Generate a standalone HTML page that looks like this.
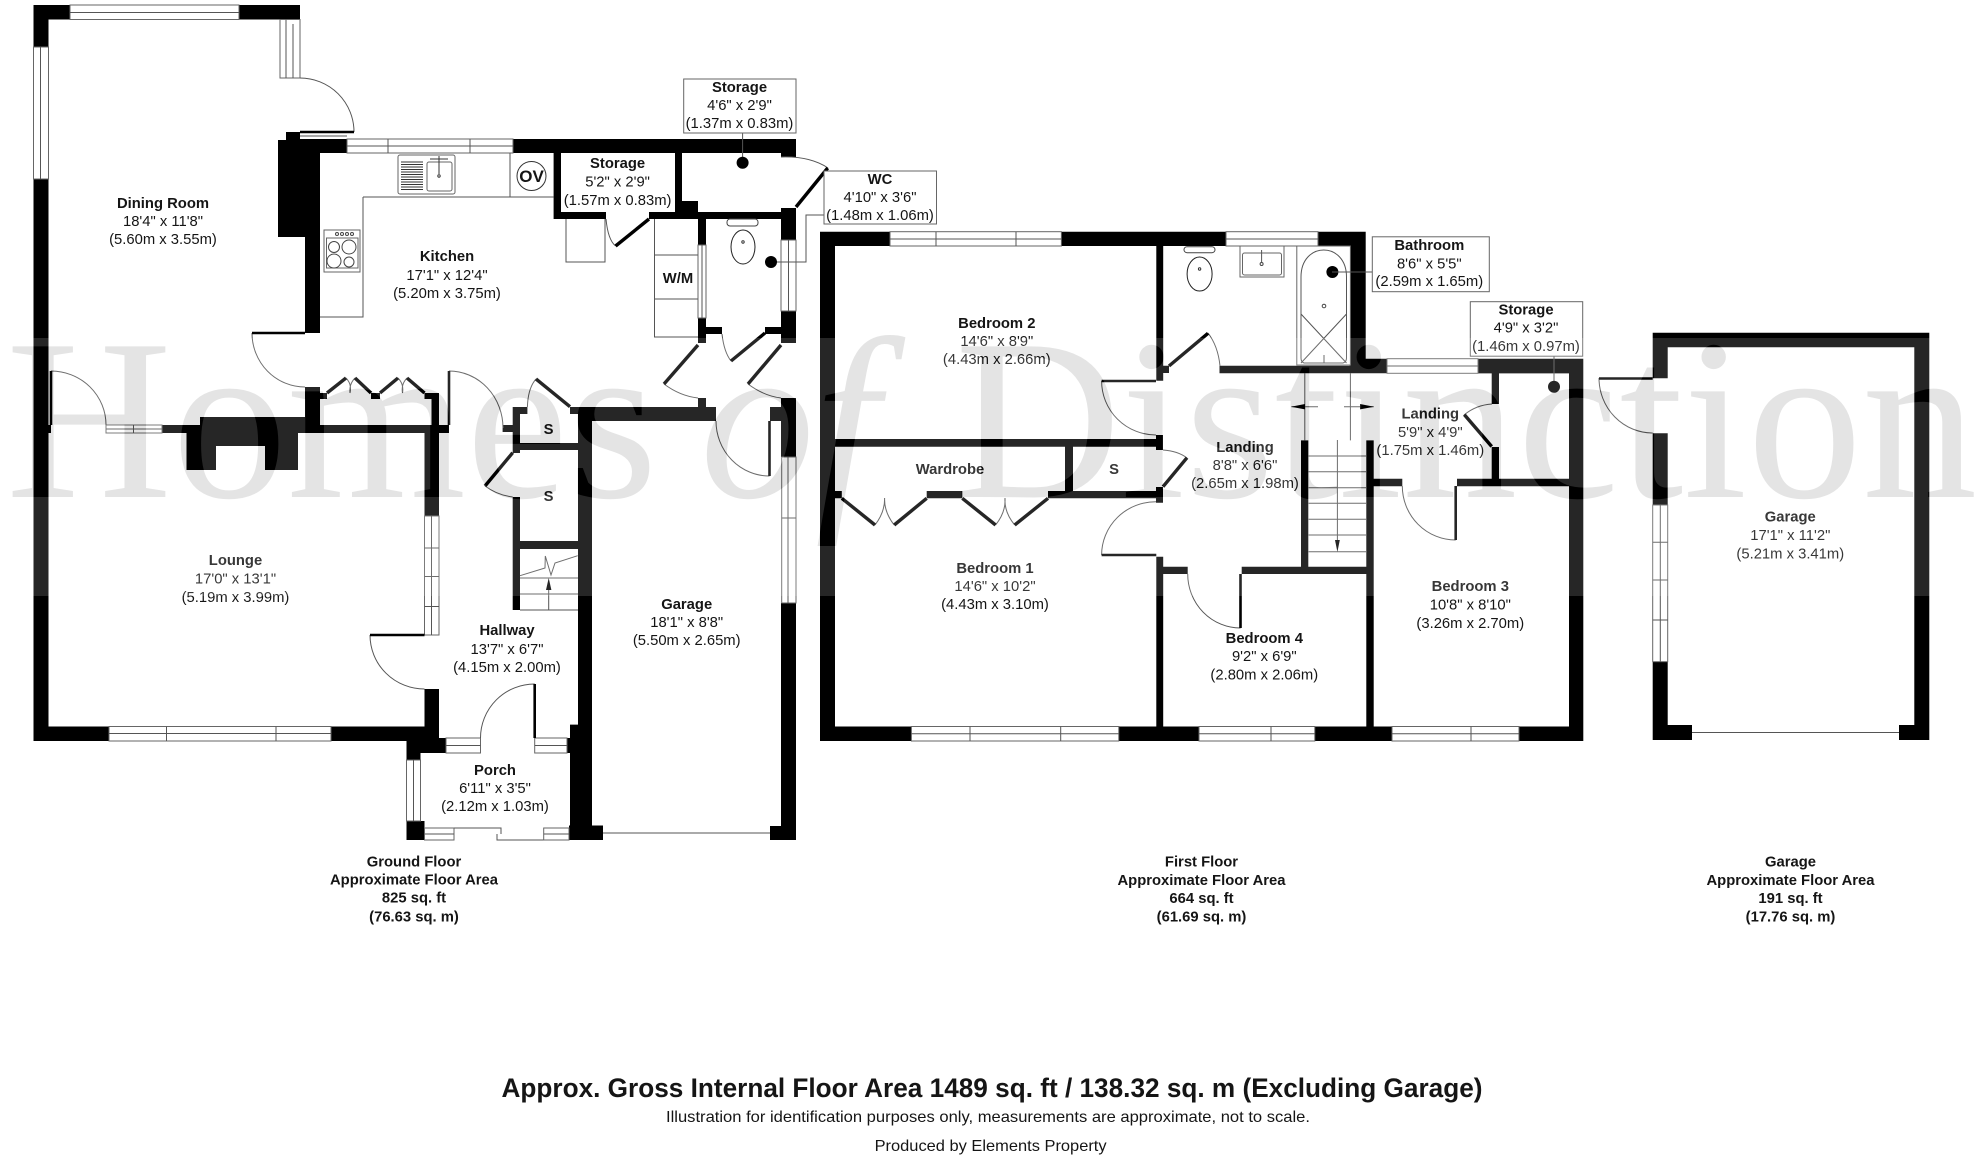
<!DOCTYPE html>
<html><head><meta charset="utf-8"><title>Floor plan</title>
<style>
html,body{margin:0;padding:0;background:#fff}
svg{display:block}
text{font-family:"Liberation Sans",sans-serif;fill:#151515;text-anchor:middle;font-size:14.8px}
.b{font-weight:bold}
.w{fill:#fff;stroke:#666;stroke-width:1}
.l{fill:none;stroke:#555;stroke-width:1}
.k{fill:none;stroke:#000;stroke-width:2.6}
.d{fill:none;stroke:#000;stroke-width:3.4}
.wm{font-family:"Liberation Serif",serif;font-size:230px;text-anchor:start}
</style></head><body>
<svg width="1984" height="1160" viewBox="0 0 1984 1160" xmlns="http://www.w3.org/2000/svg">
<defs><mask id="m" maskUnits="userSpaceOnUse" x="0" y="0" width="1984" height="1160"><rect x="0" y="0" width="1984" height="1160" fill="#fff"/><text class="wm" y="497" style="fill:#000"><tspan x="6">Homes</tspan><tspan x="700" font-style="italic">of</tspan><tspan x="955">Distinction</tspan></text></mask></defs>
<rect width="1984" height="1160" fill="#fff"/>

<!-- GROUND FLOOR WALLS -->
<path fill="#000" d="M33.5 5H70V19.5H33.5ZM33.5 5H48.5V47H33.5ZM239 5H300V19.5H239ZM286 19H300V24H286ZM33.5 179H48.5V741H33.5ZM48.5 425H51V433H48.5ZM278 140H305V237H278ZM286 132H300V140H286ZM300 139H347V153H300ZM305 140H320V333H305ZM305 387H320V433H305ZM320 393H327V399H320ZM371 393H380V399H371ZM424.5 393H439V399H424.5ZM431.5 399H439V433H431.5ZM162 425H449V433H162ZM200 417H305V433H200ZM186.5 433H298V470H186.5ZM424.5 433H439V516H424.5ZM424.5 689H439V741H424.5ZM33.5 726.5H109V741H33.5ZM331 726.5H439V741H331ZM406.5 738H446V753H406.5ZM406.5 753H420.5V760H406.5ZM406.5 821H424.5V840H406.5ZM570 724.6H592V840H570ZM567 738H570V753H567ZM578 407H592V840H578ZM569 825.5H603V840H569ZM513 139H796V153H513ZM781 153H796V157H781ZM553.6 153H561V219H553.6ZM553.6 212H606V219H553.6ZM649 212H781V219H649ZM675 153H682V212H675ZM682 201H698V212H682ZM781 208H796V240H781ZM781 311H796V343H781ZM698 219H706V245H698ZM698 318H706V343H698ZM706 327H722V334H706ZM765 327H781V334H765ZM570 407H592V414H570ZM592 407H716V421H592ZM698 398H706V407H698ZM770 407H796V421H770ZM781 398H796V457H781ZM781 603H796V840H781ZM770 826H796V840H770ZM512.7 407H520V453H512.7ZM502.6 425H512.7V432H502.6ZM512.7 407H527.4V414H512.7ZM520 443H578V450H520ZM512.7 497H520V610H512.7ZM520 541H578V549H520Z"/>
<rect x="216" y="446" width="49" height="24" fill="#fff"/>

<!-- GROUND WINDOWS -->
<rect class="w" x="70" y="5" width="169" height="14.5"/><path class="l" d="M70 12.5H239"/>
<rect class="w" x="280" y="19.5" width="20" height="58.5"/><path class="l" d="M286 19.5V78M293 24V78"/>
<rect class="w" x="33.5" y="47" width="15" height="132"/><path class="l" d="M40.5 47V179"/>
<rect class="w" x="106" y="425" width="56" height="8"/><path class="l" d="M133.5 425V433M106 429H162"/>
<rect class="w" x="347" y="139" width="166" height="14"/><path class="l" d="M347 146H513M388 139V153M470 139V153"/>
<path class="l" d="M300 136H347"/>
<rect class="w" x="424.5" y="516" width="14.5" height="119"/><path class="l" d="M431.5 516V635M424.5 548H439M424.5 576.5H439M424.5 606.5H439"/>
<rect class="w" x="109" y="726.5" width="222" height="14.5"/><path class="l" d="M109 733.5H331M166.5 726.5V741M276 726.5V741"/>
<rect class="w" x="446" y="738" width="34.5" height="15"/><path class="l" d="M446 745.5H480.5"/>
<rect class="w" x="534.7" y="738" width="32.3" height="15"/><path class="l" d="M534.7 745.5H567"/>
<rect class="w" x="406.5" y="760" width="14" height="61"/><path class="l" d="M413.5 760V821"/>
<rect class="w" x="424.5" y="828" width="29.5" height="12"/><path class="l" d="M424.5 834H454"/>
<path class="l" d="M454 828H501V834M497 834V840H544"/>
<rect class="w" x="543.7" y="828" width="25.3" height="12"/><path class="l" d="M543.7 834H569"/>
<rect class="w" x="698" y="245" width="8" height="73"/><path class="l" d="M702 245V318"/>
<rect class="w" x="781" y="240" width="15" height="71"/><path class="l" d="M788.5 240V311"/>
<rect class="w" x="781.7" y="457" width="14.3" height="146"/><path class="l" d="M788 457V603M781.7 518H796"/>
<path class="l" d="M603 833H770" stroke-width="1.5"/>

<!-- GROUND DOORS -->
<path class="l" d="M300 78A54 54 0 0 1 354 132M252 333A53 54 0 0 0 305 387M51 371A55 54 0 0 1 106 425M449 371A54 57 0 0 1 503 428M370 635A54.5 54 0 0 0 424.5 689M534.7 684A54.2 54 0 0 0 480.5 738M716 421A53.5 55 0 0 0 769.5 476M606 219Q608 240 615.6 246M722 334Q724 352 731 361M781 157Q810 156 828 168M664 384Q680 396 698 398M748 384Q764 396 781 398M527.4 407Q528 388 536 379M485 486Q497 495 512.7 497M346 378Q352 384 350 393M355 378Q349 384 350 393M398 378Q404 384 402.5 393M407 378Q401 384 402.5 393"/>
<path class="k" d="M300 132H354M252 333H305M51 371V425M449 371V425M370 635H424.5M534.7 684V738M769.5 421V476"/>
<path class="d" d="M649 219L615.6 246M765 333L731 361M796 207L827.7 168M698 345L664 384M781 345L748 384M536 379L570 406.7M512.7 452.7L485 486M327 393L346 378M355 378L371 393M380 393L398 378M407 378L424.5 393"/>

<!-- KITCHEN FITTINGS -->
<path class="l" d="M510 153V197M363 197H553.6M363 197V317H320M566 219V262H605V219"/>
<circle cx="531.5" cy="176" r="14.5" fill="#fff" stroke="#333"/>
<rect x="398" y="155" width="57" height="39" rx="2" fill="#fff" stroke="#666"/>
<rect x="427" y="162" width="25" height="29" rx="2" fill="none" stroke="#666"/>
<path stroke="#333" stroke-width=".9" d="M401 162H423M401 164.5H423M401 167H423M401 169.5H423M401 172H423M401 174.5H423M401 177H423M401 179.5H423M401 182H423M401 184.5H423M401 187H423M401 189.5H423"/>
<path stroke="#333" d="M439 156V174M430 159H448"/>
<circle cx="439" cy="176" r="1.2" fill="none" stroke="#333"/>
<rect x="324" y="230" width="36" height="42" fill="#fff" stroke="#666"/>
<rect x="326.5" y="238" width="31.5" height="30" fill="none" stroke="#666"/>
<g fill="none" stroke="#444"><circle cx="334" cy="247" r="5.5"/><circle cx="349" cy="247" r="7"/><circle cx="334" cy="261" r="7"/><circle cx="349" cy="262" r="5"/><circle cx="337" cy="234" r="1.5"/><circle cx="342" cy="234" r="1.5"/><circle cx="347" cy="234" r="1.5"/><circle cx="352" cy="234" r="1.5"/></g>

<!-- WC fittings -->
<path class="l" d="M654.5 219V337H698M654.5 255H698M654.5 299H698"/>
<rect x="727" y="219" width="31" height="7" rx="3" fill="#fff" stroke="#444"/>
<ellipse cx="743" cy="247" rx="12" ry="17" fill="#fff" stroke="#222"/>
<circle cx="743" cy="242" r="1.2" fill="none" stroke="#333"/>
<path class="l" d="M771 262H806V215H824M742.6 133V163"/>
<circle cx="771" cy="262" r="6" fill="#000"/><circle cx="742.6" cy="162.7" r="6" fill="#000"/>

<!-- Ground stairs -->
<path class="l" d="M520 578H578M520 594H578M520 610H578M520 575.7L545 568L545.3 556L551 575L555 563L577.7 555.7M548.7 610V585"/>
<path fill="#000" d="M548.7 578L546 590H551.4Z"/>

<!-- FIRST FLOOR WALLS -->
<path fill="#000" d="M820 231.7H890V246H820ZM1061.4 231.7H1226V246H1061.4ZM1318 231.7H1365.7V246H1318ZM820 231.7H835V741H820ZM1349.6 231.7H1365.7V373H1349.6ZM1219.5 365.7H1387V373.3H1219.5ZM1365 358.7H1387V373.3H1365ZM1478 358.7H1583.3V373.4H1478ZM1569 358.7H1583.3V741H1569ZM820 726.5H911.4V741H820ZM1118.8 726.5H1199V741H1118.8ZM1314.8 726.5H1392V741H1314.8ZM1519 726.5H1583.3V741H1519ZM1491.7 373H1499V404H1491.7ZM1491.7 447H1499V479H1491.7ZM1457 478.8H1569V486.3H1457ZM1373.7 478.8H1402.3V486.3H1373.7ZM1301 440.4H1308.3V568H1301ZM1366.3 440.4H1373.7V741H1366.3ZM1241.7 566.7H1366.3V574H1241.7ZM1156.3 556.7H1163.2V741H1156.3ZM1163 566.7H1187.7V574H1163ZM1156.3 246H1163.2V380.7H1156.3ZM1163 365.7H1169V373H1163ZM1156 435H1163V450H1156ZM835 439H1156V446.7H835ZM1156 487H1163V502.7H1156ZM1048 491H1156V498.3H1048ZM926.7 491H962.3V498.3H926.7ZM835 491H841.8V498.3H835ZM1065 446.7H1073V491H1065Z"/>
<!-- first floor windows -->
<rect class="w" x="890" y="231.7" width="171.4" height="14.3"/><path class="l" d="M890 239H1061.4M936 231.7V246M1016 231.7V246"/>
<rect class="w" x="1226" y="231.7" width="92" height="14.3"/><path class="l" d="M1226 239H1318"/>
<rect class="w" x="1387" y="358.7" width="91" height="14.6"/><path class="l" d="M1387 366H1478"/>
<rect class="w" x="911.4" y="726.5" width="207.4" height="14.5"/><path class="l" d="M911.4 733.7H1118.8M970 726.5V741M1060.7 726.5V741"/>
<rect class="w" x="1199" y="726.5" width="115.8" height="14.5"/><path class="l" d="M1199 733.7H1314.8M1271 726.5V741"/>
<rect class="w" x="1392" y="726.5" width="127" height="14.5"/><path class="l" d="M1392 733.7H1519M1471 726.5V741"/>
<!-- first floor doors -->
<path class="l" d="M1101.6 381A54.4 54 0 0 0 1156 435M1156 501.7A54.4 53.3 0 0 0 1101.6 555M1187.7 574A52.8 54 0 0 0 1240.5 628M1402.3 486A53.4 54 0 0 0 1455.7 540M1208 333Q1218 346 1220 366M1163 450Q1178 451 1187 458M1464 415Q1476 405 1492 404M875 525Q885 512 884.6 498M894.2 525Q884 512 884.6 498M995.6 525Q1006 512 1005 498M1014.7 525Q1004 512 1005 498"/>
<path class="k" d="M1101.6 381H1156M1101.6 555H1156.3M1240.5 574V628M1455.7 486V540"/>
<path class="d" d="M1169 366L1208 333.3M1187 457.7L1163 486.7M1491.7 446.5L1464.3 414.6M841.8 498.3L875 525M894.2 525L926.7 498.3M962.3 498.3L995.6 525M1014.7 525L1048 498.3"/>
<!-- stairs first floor -->
<path class="l" d="M1304.8 373V440.4M1350.4 373V440.4M1308.6 456H1366M1308.6 471.7H1366M1308.6 487.7H1366M1308.6 503.3H1366M1308.6 519.3H1366M1308.6 535H1366M1308.6 551.7H1366M1337.4 440V545M1291.4 406.7H1318M1344 406.7H1373.7"/>
<path fill="#000" d="M1337.4 552L1335 540H1339.8ZM1291 406.7L1305 404V409.4ZM1374 406.7L1360 404V409.4Z"/>
<!-- bathroom fittings -->
<rect x="1184" y="246.7" width="31" height="6" rx="3" fill="#fff" stroke="#444"/>
<ellipse cx="1199.6" cy="274" rx="12.5" ry="17" fill="#fff" stroke="#222"/>
<circle cx="1199.6" cy="269" r="1.2" fill="none" stroke="#333"/>
<rect x="1240" y="246" width="44" height="31" fill="#fff" stroke="#666"/>
<rect x="1242.5" y="253" width="39" height="22" rx="2" fill="none" stroke="#666"/>
<path class="l" d="M1261.6 250V262"/><circle cx="1261.6" cy="264" r="1.5" fill="none" stroke="#444"/>
<rect x="1296.8" y="246" width="53.6" height="119" fill="#fff" stroke="#666"/>
<path class="l" d="M1304 363Q1301 362 1301 358V277C1301 241 1346.5 241 1346.5 277V358Q1346.5 362 1343 363ZM1301 314L1346.5 363M1346.5 314L1301 363"/>
<circle cx="1324" cy="306" r="1.8" fill="none" stroke="#444"/>
<path class="l" d="M1324 355V363"/>
<circle cx="1332.4" cy="272" r="6" fill="#000"/>
<path class="l" d="M1332 272H1372.6M1554 356V386"/>
<circle cx="1554" cy="386.7" r="6" fill="#000"/>

<!-- DETACHED GARAGE -->
<path fill="#000" d="M1652.7 332.7H1929.3V347.3H1652.7ZM1652.7 332.7H1667.7V378.3H1652.7ZM1652.7 433.3H1667.7V505H1652.7ZM1652.7 661.7H1667.7V740H1652.7ZM1652.7 725H1692V740H1652.7ZM1899 725H1929.3V740H1899ZM1914.3 332.7H1929.3V740H1914.3Z"/>
<rect class="w" x="1652.7" y="505" width="15" height="156.7"/><path class="l" d="M1660.3 505V661.7M1652.7 542.3H1667.7M1652.7 580H1667.7M1652.7 620H1667.7"/>
<path class="l" d="M1692 732.5H1899"/>
<path class="l" d="M1599 378A53.7 55 0 0 0 1652.7 433"/>
<path class="k" d="M1599 378.5H1652.7"/>

<!-- LABEL BOXES -->
<rect class="w" x="683.7" y="79" width="112.3" height="54"/>
<rect class="w" x="824" y="171" width="112.5" height="53"/>
<rect class="w" x="1372.3" y="236.8" width="117" height="54.9"/>
<rect class="w" x="1470.3" y="301.7" width="112.4" height="54.5"/>

<!-- LABELS -->
<text class="b" x="163" y="208">Dining Room</text><text x="163" y="226">18'4" x 11'8"</text><text x="163" y="244">(5.60m x 3.55m)</text>
<text class="b" x="447" y="261">Kitchen</text><text x="447" y="280">17'1" x 12'4"</text><text x="447" y="298">(5.20m x 3.75m)</text>
<text class="b" x="617.6" y="168">Storage</text><text x="617.6" y="186.7">5'2" x 2'9"</text><text x="617.6" y="205">(1.57m x 0.83m)</text>
<text class="b" x="739.5" y="92">Storage</text><text x="739.5" y="110">4'6" x 2'9"</text><text x="739.5" y="128">(1.37m x 0.83m)</text>
<text class="b" x="880" y="184">WC</text><text x="880" y="202">4'10" x 3'6"</text><text x="880" y="220">(1.48m x 1.06m)</text>
<text class="b" x="531.5" y="182" style="font-size:17px">OV</text>
<text class="b" x="678" y="283">W/M</text>
<text class="b" x="548.6" y="434">S</text><text class="b" x="548.6" y="501">S</text>
<text class="b" x="235.5" y="565">Lounge</text><text x="235.5" y="583.5">17'0" x 13'1"</text><text x="235.5" y="602">(5.19m x 3.99m)</text>
<text class="b" x="507" y="635">Hallway</text><text x="507" y="654">13'7" x 6'7"</text><text x="507" y="672">(4.15m x 2.00m)</text>
<text class="b" x="495" y="775">Porch</text><text x="495" y="793">6'11" x 3'5"</text><text x="495" y="811">(2.12m x 1.03m)</text>
<text class="b" x="686.7" y="609">Garage</text><text x="686.7" y="627">18'1" x 8'8"</text><text x="686.7" y="645">(5.50m x 2.65m)</text>
<text class="b" x="996.8" y="328">Bedroom 2</text><text x="996.8" y="346">14'6" x 8'9"</text><text x="996.8" y="364">(4.43m x 2.66m)</text>
<text class="b" x="950" y="474">Wardrobe</text><text class="b" x="1114" y="474">S</text>
<text class="b" x="995" y="573">Bedroom 1</text><text x="995" y="591">14'6" x 10'2"</text><text x="995" y="609">(4.43m x 3.10m)</text>
<text class="b" x="1245" y="452">Landing</text><text x="1245" y="470">8'8" x 6'6"</text><text x="1245" y="488">(2.65m x 1.98m)</text>
<text class="b" x="1264.3" y="643">Bedroom 4</text><text x="1264.3" y="661">9'2" x 6'9"</text><text x="1264.3" y="679.5">(2.80m x 2.06m)</text>
<text class="b" x="1470.3" y="591">Bedroom 3</text><text x="1470.3" y="609.7">10'8" x 8'10"</text><text x="1470.3" y="628">(3.26m x 2.70m)</text>
<text class="b" x="1430.3" y="418.5">Landing</text><text x="1430.3" y="436.8">5'9" x 4'9"</text><text x="1430.3" y="454.8">(1.75m x 1.46m)</text>
<text class="b" x="1429.3" y="250">Bathroom</text><text x="1429.3" y="268.4">8'6" x 5'5"</text><text x="1429.3" y="286">(2.59m x 1.65m)</text>
<text class="b" x="1526" y="314.6">Storage</text><text x="1526" y="332.5">4'9" x 3'2"</text><text x="1526" y="350.8">(1.46m x 0.97m)</text>
<text class="b" x="1790.3" y="521.7">Garage</text><text x="1790.3" y="540">17'1" x 11'2"</text><text x="1790.3" y="558.3">(5.21m x 3.41m)</text>

<text class="b" x="414" y="866.5">Ground Floor</text><text class="b" x="414" y="884.5">Approximate Floor Area</text><text class="b" x="414" y="902.5">825 sq. ft</text><text class="b" x="414" y="921.5">(76.63 sq. m)</text>
<text class="b" x="1201.5" y="866.5">First Floor</text><text class="b" x="1201.5" y="885">Approximate Floor Area</text><text class="b" x="1201.5" y="903">664 sq. ft</text><text class="b" x="1201.5" y="921.5">(61.69 sq. m)</text>
<text class="b" x="1790.5" y="866.5">Garage</text><text class="b" x="1790.5" y="885">Approximate Floor Area</text><text class="b" x="1790.5" y="903">191 sq. ft</text><text class="b" x="1790.5" y="921.5">(17.76 sq. m)</text>

<text class="b" x="992" y="1097" style="font-size:26.5px" textLength="981" lengthAdjust="spacingAndGlyphs">Approx. Gross Internal Floor Area 1489 sq. ft / 138.32 sq. m (Excluding Garage)</text>
<text x="988" y="1122" style="font-size:16px" textLength="644" lengthAdjust="spacingAndGlyphs">Illustration for identification purposes only, measurements are approximate, not to scale.</text>
<text x="990.6" y="1151" style="font-size:16px" textLength="232" lengthAdjust="spacingAndGlyphs">Produced by Elements Property</text>

<!-- WATERMARK -->
<rect x="0" y="338" width="1984" height="258" fill="#fff" fill-opacity=".15" mask="url(#m)"/>
<text class="wm" y="497" style="fill:#000;fill-opacity:.105"><tspan x="6">Homes</tspan><tspan x="700" font-style="italic">of</tspan><tspan x="955">Distinction</tspan></text>
</svg>
</body></html>
